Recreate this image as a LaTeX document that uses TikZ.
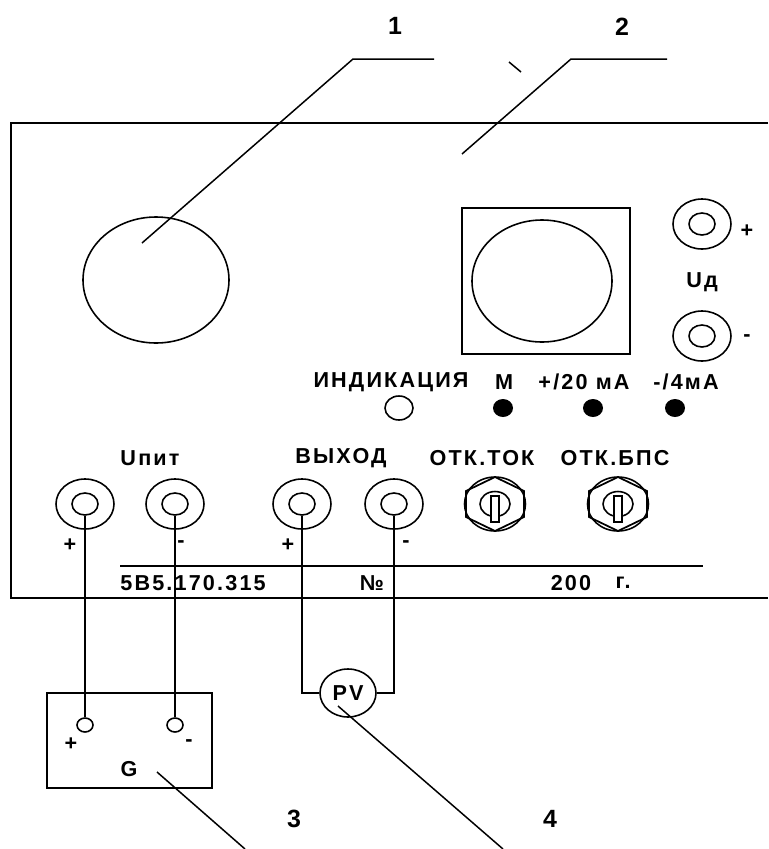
\documentclass[tikz,border=0pt]{standalone}
\usepackage{fontspec}
\setmainfont{Liberation Sans}
\newfontfamily\lblfont[LetterSpace=10]{Liberation Sans}
\usetikzlibrary{shapes.geometric}
\tikzset{
  lbl/.style={font=\lblfont\bfseries\fontsize{12.3}{14}\selectfont, inner sep=0pt},
  num/.style={font=\bfseries\fontsize{14.2}{16}\selectfont, inner sep=0pt},
  oval/.style={draw, ellipse, line width=0.9pt, inner sep=0pt},
  wire/.style={line width=1pt},
  lead/.style={line width=0.85pt}
}
\begin{document}
\begin{tikzpicture}[x=0.02cm,y=-0.02cm]
  \useasboundingbox (0,0) rectangle (768,849);

  % Панель
  \draw[line width=1.3pt] (768,123) -- (11,123) -- (11,598) -- (768,598);

  % Індикатори
  \node[oval, minimum width=146*0.02cm, minimum height=126*0.02cm] (bigL) at (156,280) {};
  \draw[wire] (462,208) rectangle (630,354);
  \node[oval, minimum width=140*0.02cm, minimum height=122*0.02cm] (bigR) at (542,281) {};

  % Гнізда
  \foreach \name/\px/\py in {ja/85/504, jb/175/504, jc/302/504, jd/394/504, je/702/224, jf/702/336} {
    \node[oval, minimum width=58*0.02cm, minimum height=50*0.02cm] (\name) at (\px,\py) {};
    \node[oval, minimum width=26*0.02cm, minimum height=22*0.02cm] (\name-in) at (\px,\py) {};
  }

  % Лампи
  \node[oval, minimum width=28*0.02cm, minimum height=24*0.02cm] (lamp) at (399,408) {};
  \foreach \name/\px in {ledM/503, ledA/593, ledB/675}
    \node[fill, ellipse, inner sep=0pt, minimum width=20*0.02cm, minimum height=18*0.02cm] (\name) at (\px,408) {};

  % Перемикачі
  \foreach \name/\px in {swa/495, swb/618} {
    \begin{scope}[shift={(\px,504)}]
      \node[oval, minimum width=61*0.02cm, minimum height=54*0.02cm] (\name) at (0,0) {};
      \draw[wire] (0,-27) -- (29,-13) -- (29,13) -- (0,27) -- (-29,13) -- (-29,-13) -- cycle;
      \node[oval, minimum width=30*0.02cm, minimum height=25*0.02cm] (\name-in) at (0,0) {};
      \draw[wire, fill=white] (-4,-8) rectangle (4,18);
    \end{scope}
  }

  % Написи
  \node[lbl] (tInd) at (391,382) {ИНДИКАЦИЯ};
  \node[lbl] (tM) at (504,382) {М};
  \node[lbl] (tA) at (584,382) {+/20 мА};
  \node[lbl] (tB) at (686,382) {-/4мА};
  \node[lbl] (tUp) at (150,458) {Uпит};
  \node[lbl] (tOut) at (341,458) {ВЫХОД};
  \node[lbl] (tTok) at (482,458) {ОТК.ТОК};
  \node[lbl] (tBps) at (615,458) {ОТК.БПС};
  \node[lbl] (tUd) at (702,282) {Uд};
  \node[lbl] (pE) at (747,231) {+};
  \node[lbl] (mF) at (747,338) {-};
  \node[lbl] (pA) at (70,545) {+};
  \node[lbl] (mB) at (181,544) {-};
  \node[lbl] (pC) at (288,545) {+};
  \node[lbl] (mD) at (406,544) {-};
  \draw[wire] (120,566) -- (703,566);
  \node[lbl, anchor=west] (tNum) at (120,583) {5В5.170.315};
  \node[lbl] (tNo) at (372,583) {№};
  \node[lbl] (tYear) at (571,583) {200};
  \node[lbl] (tG) at (623,583) {г.};

  % Джерело та прилад
  \draw[wire] (47,693) rectangle (212,788);
  \node[oval, minimum width=16*0.02cm, minimum height=14*0.02cm] (pinP) at (85,725) {};
  \node[oval, minimum width=16*0.02cm, minimum height=14*0.02cm] (pinM) at (175,725) {};
  \node[lbl] (pG) at (71,744) {+};
  \node[lbl] (mG) at (189,743) {-};
  \node[lbl] (tGen) at (129,769) {G};
  \node[oval, lbl, minimum width=56*0.02cm, minimum height=48*0.02cm] (pv) at (348,693) {PV};

  % Провідники
  \draw[wire] (ja-in.south) -- (pinP.north);
  \draw[wire] (jb-in.south) -- (pinM.north);
  \draw[wire] (jc-in.south) |- (pv.west);
  \draw[wire] (jd-in.south) |- (pv.east);

  % Виноски
  \coordinate (headA) at (142,243);
  \coordinate (headB) at (462,154);
  \coordinate (headC) at (157,772);
  \coordinate (headD) at (338,706);
  \coordinate (kneeA) at (353,59);
  \coordinate (kneeB) at (571,59);
  \draw[lead] (headA) -- (kneeA) -- (434,59);
  \draw[lead] (headB) -- (kneeB) -- (667,59);
  \draw[lead] (509,62) -- (521,72);
  \draw[lead] (headC) -- (245,849);
  \draw[lead] (headD) -- (503,849);
  \node[num] (n1) at (395,26) {1};
  \node[num] (n2) at (622,27) {2};
  \node[num] (n3) at (294,819) {3};
  \node[num] (n4) at (550,819) {4};
\end{tikzpicture}
\end{document}
